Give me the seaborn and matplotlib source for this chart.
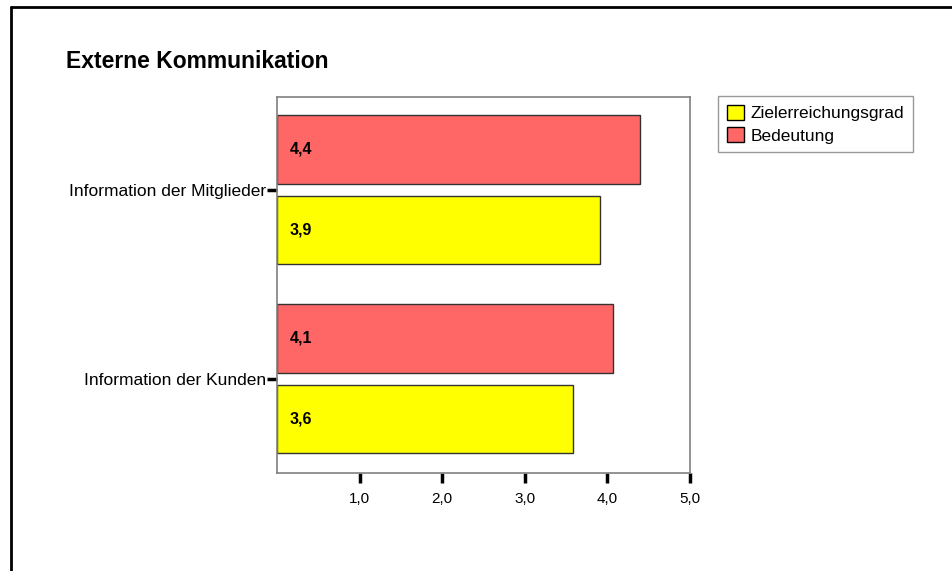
import numpy as np
import pandas as pd
import matplotlib
matplotlib.use('Agg')
import matplotlib.pyplot as plt
from matplotlib.patches import Patch
from matplotlib.lines import Line2D
import seaborn as sns

# Data
categories = ['Information der Mitglieder', 'Information der Kunden']
bedeutung = [4.39, 4.07]
ziel = [3.91, 3.58]
series = ['Bedeutung', 'Zielerreichungsgrad']
colors = {'Zielerreichungsgrad': '#FFFF00', 'Bedeutung': '#FF6666'}
xticks = [1, 2, 3, 4, 5]

df = pd.DataFrame({
    'Kategorie': categories * 2,
    'Serie': ['Bedeutung'] * 2 + ['Zielerreichungsgrad'] * 2,
    'Wert': bedeutung + ziel,
})

sns.set_theme(style='white')
plt.rcParams['font.family'] = ['Liberation Sans', 'DejaVu Sans']
plt.rcParams['text.color'] = 'black'
plt.rcParams['xtick.labelcolor'] = 'black'
plt.rcParams['ytick.labelcolor'] = 'black'

fig = plt.figure(figsize=(9.53, 5.71), dpi=100)
ax = fig.add_axes([0.2907, 0.1716, 0.4334, 0.6585])

sns.barplot(data=df, y='Kategorie', x='Wert', hue='Serie', hue_order=series,
            order=categories, palette=colors, orient='h', width=0.851, gap=0.15,
            edgecolor='#333333', linewidth=1, saturation=1, legend=False, ax=ax)

# value labels inside the bars
for p in ax.patches:
    w = p.get_width()
    if w <= 0:
        continue
    yc = p.get_y() + p.get_height() / 2
    ax.text(0.15, yc, f'{w:.1f}'.replace('.', ','), ha='left', va='center',
            fontsize=11.5, fontweight='bold', color='black')

ax.set_xlim(0, 5)
ax.set_ylim(1.50, -0.49)
ax.set_xticks(xticks)
ax.set_xticklabels([f'{t:.1f}'.replace('.', ',') for t in xticks], fontsize=11)
ax.tick_params(axis='y', labelsize=12.5)
ax.tick_params(axis='both', which='major', direction='out', length=7, width=2.5,
               color='black', labelcolor='black', left=True, bottom=True, pad=1)
ax.tick_params(axis='x', pad=7)
ax.set_xlabel('')
ax.set_ylabel('')
for s in ax.spines.values():
    s.set_color('#808080')
    s.set_linewidth(1.2)

fig.text(66 / 953, 1 - 61 / 571, 'Externe Kommunikation', fontsize=16.5,
         fontweight='bold', ha='left', va='center', color='black')

handles = [Patch(facecolor=colors[s], edgecolor='black', linewidth=1)
           for s in ['Zielerreichungsgrad', 'Bedeutung']]
leg = fig.legend(handles, ['Zielerreichungsgrad', 'Bedeutung'],
                 loc='upper left', bbox_to_anchor=(718 / 953, 1 - 96 / 571),
                 fontsize=12.5, frameon=True, fancybox=False,
                 handlelength=1.0, handleheight=1.0, handletextpad=0.4,
                 borderpad=0.5, labelspacing=0.32, borderaxespad=0)
leg.get_frame().set_edgecolor('#808080')
leg.get_frame().set_linewidth(1)
for t in leg.get_texts():
    t.set_color('black')

# outer frame (top and left edges)
fig.add_artist(Line2D([11 / 953, 1], [1 - 7 / 571, 1 - 7 / 571],
                      color='black', linewidth=2, transform=fig.transFigure))
fig.add_artist(Line2D([11 / 953, 11 / 953], [0, 1 - 7 / 571],
                      color='black', linewidth=2, transform=fig.transFigure))

fig.savefig('out.png', dpi=100)
